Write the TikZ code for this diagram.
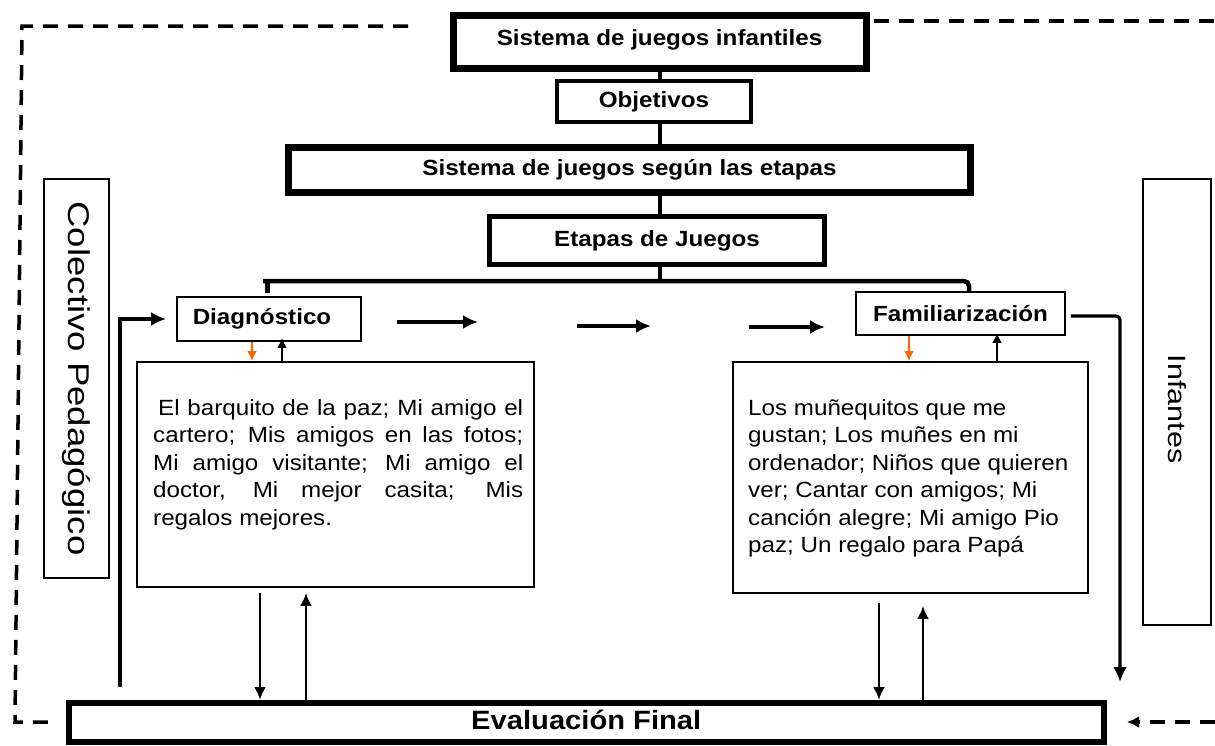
\documentclass[tikz,border=0pt]{standalone}
\usepackage{fontspec}
\setmainfont{Liberation Sans}[FakeStretch=1.1]
\newfontfamily\rotfont{Liberation Sans}[FakeStretch=1.22]
\usetikzlibrary{arrows.meta,calc}
\definecolor{arrorange}{RGB}{255,102,0}
\begin{document}
\begin{tikzpicture}[x=1pt,y=-1pt,
  thickbox/.style={draw, inner sep=0pt, text height=16pt, text depth=4.6pt, font=\fontsize{22}{26}\selectfont\bfseries},
  thinbox/.style={draw, line width=1.8pt, inner sep=0pt},
  conn/.style={line width=4pt},
  arr/.style={line width=3.2pt, -{Latex[length=15pt,width=14pt]}},
  botarr/.style={line width=2.8pt, -{Latex[length=13pt,width=12pt]}},
  smallarr/.style={line width=2pt, -{Latex[length=10pt,width=10pt]}},
  dashline/.style={line width=3.5pt, dash pattern=on 15pt off 10pt},
  bodytext/.style={anchor=base west, inner sep=0pt, font=\fontsize{22}{27.5}\selectfont},
]
\useasboundingbox (0,0) rectangle (1215,745);

% main boxes
\node[thickbox, line width=7pt, minimum width=413pt, minimum height=53pt, text depth=7.2pt] (title) at (659.5,41.5) {Sistema de juegos infantiles};
\node[thickbox, line width=4pt, minimum width=194pt, minimum height=41pt] (obj) at (654,101.5) {Objetivos};
\node[thickbox, line width=6.5pt, minimum width=682pt, minimum height=45pt] (sist) at (629.5,170) {Sistema de juegos según las etapas};
\node[thickbox, line width=5pt, minimum width=335pt, minimum height=48pt] (etapas) at (657,240.5) {Etapas de Juegos};
\node[thinbox, font=\fontsize{22}{26}\selectfont\bfseries, minimum width=184pt, minimum height=44pt] (diag) at (269,319) {\hspace*{-14pt}Diagnóstico};
\node[thinbox, font=\fontsize{22}{26}\selectfont\bfseries, minimum width=209pt, minimum height=43pt] (fam) at (960.5,313.5) {Familiarización};
\node[thinbox, minimum width=397pt, minimum height=225pt] (leftbox) at (335.5,474.5) {};
\node[thinbox, minimum width=355pt, minimum height=231pt] (rightbox) at (910.5,477.5) {};
\node[thinbox, rotate=-90, minimum width=399pt, minimum height=65pt, font=\rotfont\fontsize{30}{34}\selectfont] (colect) at (76.5,378.5) {Colectivo Pedagógico};
\node[thinbox, rotate=-90, minimum width=446pt, minimum height=68pt, font=\rotfont\fontsize{25}{30}\selectfont] (infant) at (1177,402) {\hspace*{14pt}Infantes};
\node[thickbox, line width=6pt, minimum width=1035.5pt, minimum height=39pt, font=\fontsize{26.5}{30}\selectfont\bfseries, text height=19pt, text depth=5.5pt] (eval) at (586.25,722.5) {Evaluación Final};

% body texts
\node[bodytext] (lefttext) at (153,415) {\parbox[t]{370pt}{%
\hspace*{5pt}\makebox[365pt][s]{El barquito de la paz; Mi amigo el}\\
\makebox[370pt][s]{cartero; Mis amigos en las fotos;}\\
\makebox[370pt][s]{Mi amigo visitante; Mi amigo el}\\
\makebox[370pt][s]{doctor, Mi mejor casita; Mis}\\
regalos mejores.}};
\node[bodytext] (righttext) at (748,415) {\parbox[t]{340pt}{\raggedright
Los muñequitos que me\\
gustan; Los muñes en mi\\
ordenador; Niños que quieren\\
ver; Cantar con amigos; Mi\\
canción alegre; Mi amigo Pio\\
paz; Un regalo para Papá}};

% vertical spine
\draw[conn] (title.south) -- (title.south |- obj.north);
\draw[conn] (obj.south -| title.south) -- (sist.north -| title.south);
\draw[conn] (sist.south -| title.south) -- (etapas.north -| title.south);
\coordinate (barL) at (263,281);
\coordinate (famx) at (969,281);
\coordinate (bartop) at (etapas.south -| title.south);
\draw[conn] (bartop) -- (bartop |- barL);
\draw[line width=4.5pt, rounded corners=5pt] (barL) -- (famx) -- (famx |- fam.north);
\coordinate (stub) at (267,293);
\draw[line width=5pt] (stub |- barL) -- (stub);

% left feedback into Diagnostico
\coordinate (lfb) at (120,687);
\draw[arr] (lfb) |- ($(diag.west)+(-10,0)$);

% horizontal arrows between stages
\coordinate (h1a) at (397,322); \coordinate (h1b) at (478,322);
\coordinate (h2a) at (577,326); \coordinate (h2b) at (651,326);
\coordinate (h3a) at (749,327); \coordinate (h3b) at (825,327);
\draw[arr] (h1a) -- (h1b);
\draw[arr] (h2a) -- (h2b);
\draw[arr] (h3a) -- (h3b);

% small arrows between stage boxes and content boxes
\coordinate (o1) at ($(diag.south)+(-17,0)$);
\coordinate (u1) at ($(diag.south)+(13,0)$);
\draw[smallarr, arrorange] (o1) -- (o1 |- leftbox.north);
\draw[smallarr] (u1 |- leftbox.north) -- ($(u1)+(0,-4)$);
\coordinate (o2) at ($(fam.south)+(-51.5,0)$);
\coordinate (u2) at ($(fam.south)+(36.5,0)$);
\draw[smallarr, arrorange] (o2) -- (o2 |- rightbox.north);
\draw[smallarr] (u2 |- rightbox.north) -- ($(u2)+(0,-3)$);

% Familiarizacion to bottom
\coordinate (fr) at (1120,682);
\draw[arr, rounded corners=4pt] ($(fam.east)+(5,2.5)$) -| (fr);

% content boxes to evaluation
\coordinate (d1) at ($(leftbox.south)+(-75.5,5)$);
\coordinate (u3) at ($(leftbox.south)+(-29.5,5)$);
\draw[botarr] (d1) -- (d1 |- eval.north);
\draw[botarr] (u3 |- eval.north) -- (u3);
\coordinate (d2) at ($(rightbox.south)+(-31.5,9)$);
\coordinate (u4) at ($(rightbox.south)+(12.5,12)$);
\draw[botarr] (d2) -- (d2 |- eval.north);
\draw[botarr] (u4 |- eval.north) -- (u4);

% dashed outer loop
\coordinate (dl1) at (408,26); \coordinate (dl2) at (22,26);
\coordinate (dl3) at (15,722); \coordinate (dl4) at (55,722);
\draw[dashline] (dl1) -- (dl2) -- (dl3) -- (dl4);
\coordinate (dr1) at (874,21); \coordinate (dr2) at (1215,21);
\draw[dashline] (dr1) -- (dr2);
\coordinate (db1) at (1215,722); \coordinate (db2) at (1127,722);
\draw[dashline, -{Latex[length=12pt,width=12pt]}] (db1) -- (db2);
\end{tikzpicture}
\end{document}
